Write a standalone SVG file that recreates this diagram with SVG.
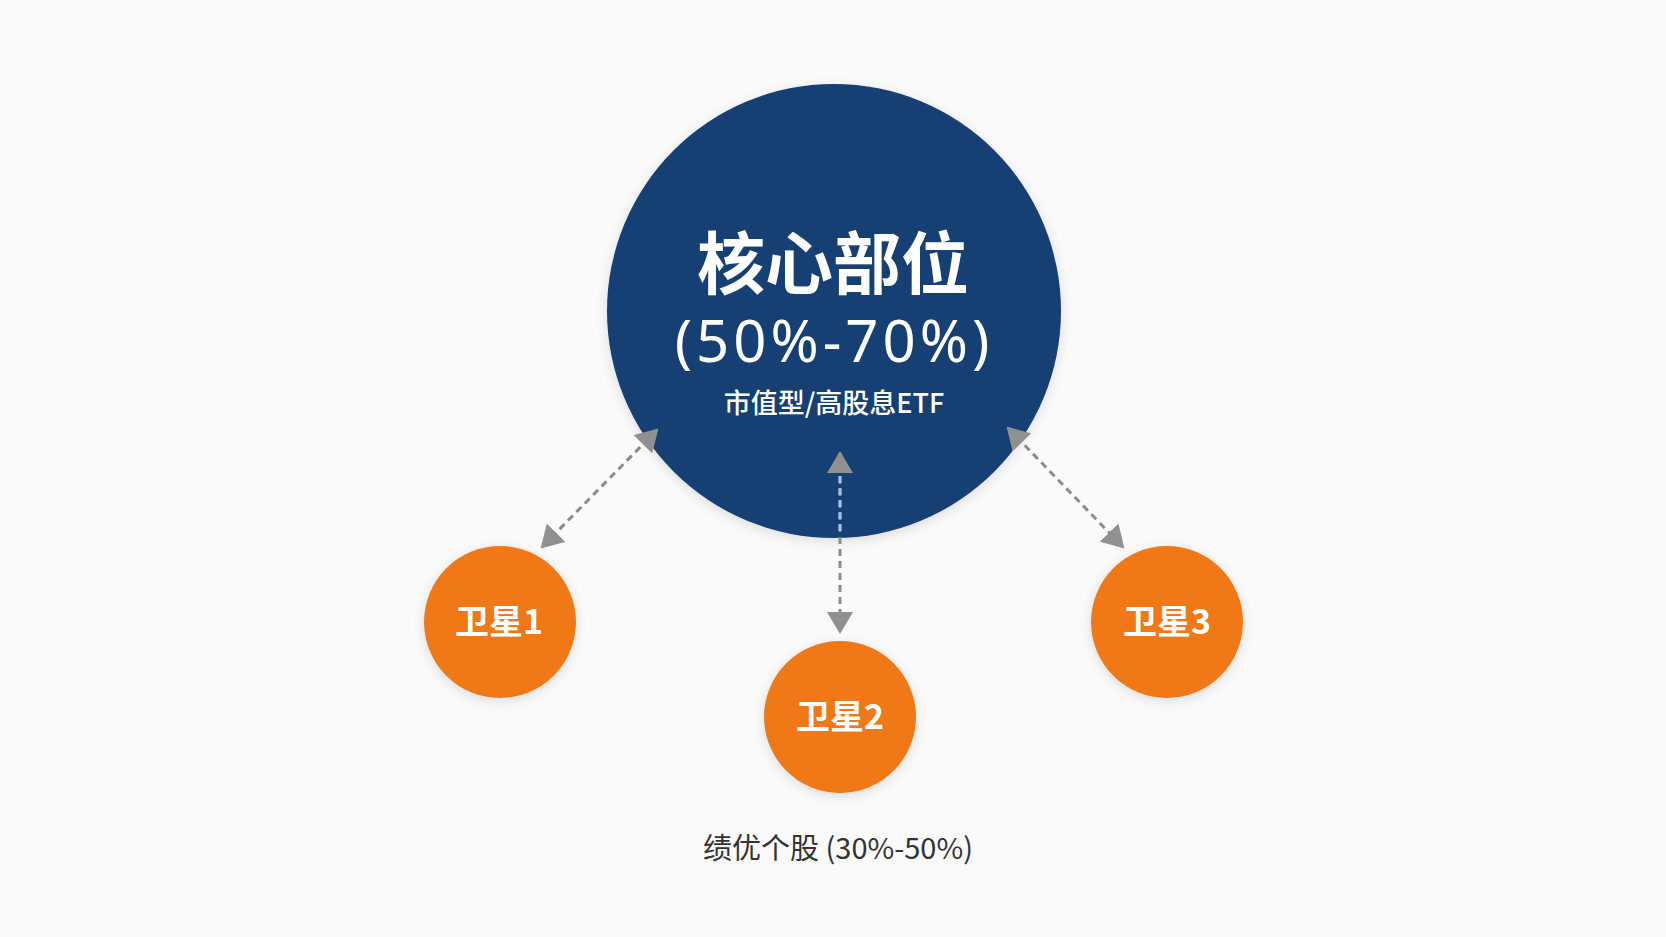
<svg xmlns="http://www.w3.org/2000/svg" width="1666" height="937" viewBox="0 0 1666 937">
  <style>
    .cn { font-family: "Noto Sans CJK SC", "Noto Sans", sans-serif; text-anchor: middle; }
    .lat { font-family: "Noto Sans", "Noto Sans CJK SC", sans-serif; text-anchor: middle; }
    .w { fill: #ffffff; }
    .conn { stroke: #8c8c8c; stroke-width: 3; stroke-dasharray: 7 5; fill: none; }
  </style>
  <defs>
    <filter id="sh" x="-20%" y="-20%" width="140%" height="140%">
      <feDropShadow dx="0" dy="3" stdDeviation="6" flood-color="#000" flood-opacity="0.12"/>
    </filter>
    <marker id="ah" markerUnits="userSpaceOnUse" markerWidth="22" markerHeight="26" refX="20" refY="13" orient="auto-start-reverse" viewBox="0 0 22 26">
      <path d="M0,0 L22,13 L0,26 z" fill="#909090"/>
    </marker>
  </defs>
  <rect width="1666" height="937" fill="#fafafa"/>

  <g id="core">
    <circle cx="834" cy="311" r="227" fill="#163f73" filter="url(#sh)"/>
    <text class="cn w" x="833" y="289" font-size="68" font-weight="700">核心部位</text>
    <text class="lat w" x="834" y="362" font-size="58" font-weight="400" letter-spacing="4">(50%-70%)</text>
    <text class="cn w" x="834" y="413" font-size="27" font-weight="500">市值型/高股息ETF</text>
  </g>

  <g id="connectors">
    <line class="conn" x1="657" y1="430" x2="542" y2="547" marker-start="url(#ah)" marker-end="url(#ah)"/>
    <line class="conn" x1="1008" y1="428" x2="1123" y2="547" marker-start="url(#ah)" marker-end="url(#ah)"/>
    <line class="conn" x1="840" y1="453" x2="840" y2="632" marker-start="url(#ah)" marker-end="url(#ah)"/>
    <line x1="840" y1="476" x2="840" y2="533" stroke="#9cc2e4" stroke-width="3" stroke-dasharray="7 5"/>
  </g>

  <g id="sat1">
    <circle cx="500" cy="622" r="76" fill="#f07818" filter="url(#sh)"/>
    <text class="cn w" x="499" y="634" font-size="34" font-weight="700">卫星1</text>
  </g>
  <g id="sat2">
    <circle cx="840" cy="717" r="76" fill="#f07818" filter="url(#sh)"/>
    <text class="cn w" x="840" y="729" font-size="34" font-weight="700">卫星2</text>
  </g>
  <g id="sat3">
    <circle cx="1167" cy="622" r="76" fill="#f07818" filter="url(#sh)"/>
    <text class="cn w" x="1167" y="634" font-size="34" font-weight="700">卫星3</text>
  </g>

  <g id="label">
    <text class="cn" x="838" y="859" font-size="29" font-weight="400" fill="#333333">绩优个股 (30%-50%)</text>
  </g>
</svg>
